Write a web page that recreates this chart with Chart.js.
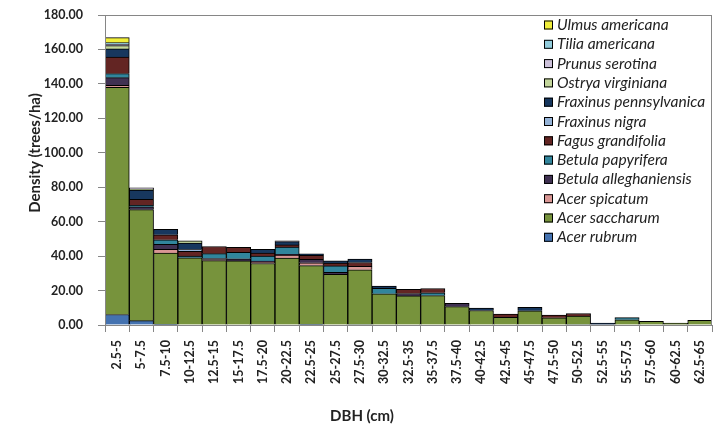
<!DOCTYPE html>
<html>
<head>
<meta charset="utf-8">
<script src="https://cdn.jsdelivr.net/npm/chart.js@4.4.1/dist/chart.umd.min.js"></script>
<style>
  html, body { margin: 0; padding: 0; background: #fff; }
  #wrap { width: 722px; height: 427px; position: relative; }
</style>
</head>
<body>
<div id="wrap"><canvas id="dbhChart"></canvas></div>
<script>
// DBH classes (cm)
const dbhClasses = ["2.5-5", "5-7.5", "7.5-10", "10-12.5", "12.5-15", "15-17.5", "17.5-20", "20-22.5",
  "22.5-25", "25-27.5", "27.5-30", "30-32.5", "32.5-35", "35-37.5", "37.5-40", "40-42.5",
  "42.5-45", "45-47.5", "47.5-50", "50-52.5", "52.5-55", "55-57.5", "57.5-60", "60-62.5", "62.5-65"];

// Density (trees/ha) per species, one value per DBH class
const acerRubrum      = [6.1, 2.5, 0.4, 0, 0, 0, 0, 0, 0.4, 0, 0.3, 0, 0, 0, 0, 0, 0, 0, 0, 0.3, 0, 0, 0, 0, 0];
const acerSaccharum   = [131.9, 64.5, 41.4, 39.0, 37.4, 37.2, 35.7, 38.8, 34.1, 29.4, 31.8, 18.1, 16.9, 17.1, 10.7, 8.4, 4.5, 8.3, 4.2, 4.9, 0, 3.0, 2.1, 1.1, 2.7];
const acerSpicatum    = [1.2, 0, 2.1, 0, 0.6, 0, 0.8, 1.8, 1.6, 0, 1.9, 0, 0, 0, 0, 0, 0, 0, 0, 0, 0, 0, 0, 0, 0];
const betulaAllegh    = [4.4, 1.6, 2.9, 0, 0.6, 1.2, 0.6, 0.4, 2.0, 1.2, 0, 0, 1.4, 0, 1.9, 0, 0, 0, 0, 0, 0, 0, 0, 0, 0];
const betulaPapyrifera= [2.4, 0.9, 2.7, 1.0, 2.8, 3.8, 2.9, 4.2, 0, 3.7, 0, 3.2, 0, 1.6, 0, 0, 0, 0, 0, 0, 0, 1.3, 0, 0, 0];
const fagusGrand      = [9.6, 3.5, 2.9, 2.8, 4.2, 2.9, 1.7, 1.3, 2.3, 1.7, 2.3, 0, 2.4, 2.5, 0, 0, 1.9, 0, 1.6, 1.5, 0, 0, 0, 0, 0];
const fraxinusNigra   = [0, 0, 0, 1.0, 0, 0, 0, 0, 0, 0, 0, 0, 0, 0, 0, 0, 0, 0, 0, 0, 0, 0, 0, 0, 0];
const fraxinusPenn    = [4.7, 5.3, 3.1, 3.7, 0, 0, 2.3, 1.9, 0.9, 1.3, 2.0, 1.3, 0, 0, 0, 1.45, 0, 2.0, 0, 0, 1.1, 0, 0, 0, 0];
const ostryaVirg      = [1.9, 0.7, 0, 1.4, 0, 0, 0, 0, 0, 0, 0, 0, 0, 0, 0, 0, 0, 0, 0, 0, 0, 0, 0, 0, 0];
const prunusSerotina  = [0.85, 0.6, 0, 0, 0, 0, 0, 0.5, 0, 0, 0, 0, 0, 0, 0, 0, 0, 0, 0, 0, 0, 0, 0, 0, 0];
const tiliaAmericana  = [0.9, 0, 0, 0, 0, 0, 0, 0, 0, 0, 0, 0, 0, 0, 0, 0, 0, 0, 0, 0, 0, 0, 0, 0, 0];
const ulmusAmericana  = [2.9, 0, 0, 0, 0, 0, 0, 0, 0, 0, 0, 0, 0, 0, 0, 0, 0, 0, 0, 0, 0, 0, 0, 0, 0];

const yTicks = [0, 20, 40, 60, 80, 100, 120, 140, 160, 180];

// stack order, bottom to top
const species = [
  ["Acer rubrum", acerRubrum, "#4472B0"],
  ["Acer saccharum", acerSaccharum, "#77933C"],
  ["Acer spicatum", acerSpicatum, "#D99694"],
  ["Betula alleghaniensis", betulaAllegh, "#403152"],
  ["Betula papyrifera", betulaPapyrifera, "#31859C"],
  ["Fagus grandifolia", fagusGrand, "#632523"],
  ["Fraxinus nigra", fraxinusNigra, "#95B3D7"],
  ["Fraxinus pennsylvanica", fraxinusPenn, "#17375E"],
  ["Ostrya virginiana", ostryaVirg, "#C3D69B"],
  ["Prunus serotina", prunusSerotina, "#CCC1DA"],
  ["Tilia americana", tiliaAmericana, "#93CDDD"],
  ["Ulmus americana", ulmusAmericana, "#F0EE3A"],
];

const axisGray = "#868686";
const textColor = "#222";

// box round the plot, legend inside it, axis titles
const framePlugin = {
  id: "frame",
  afterDraw(chart) {
    const { ctx, chartArea: a } = chart;
    ctx.save();
    ctx.strokeStyle = axisGray;
    ctx.lineWidth = 1;
    ctx.strokeRect(a.left + 0.5, a.top + 0.5, a.right - a.left - 1, a.bottom - a.top);

    // legend (reverse order, top item is last species)
    const sets = chart.data.datasets.slice().reverse();
    ctx.font = "italic 15.5px Lato";
    ctx.textBaseline = "middle";
    sets.forEach((ds, i) => {
      const y = a.top + 10 + i * 19.3;
      const x = a.right - 168;
      ctx.fillStyle = ds.backgroundColor;
      ctx.fillRect(x, y - 4.5, 9, 9);
      ctx.strokeStyle = "#000";
      ctx.strokeRect(x + 0.5, y - 4, 8, 8);
      ctx.fillStyle = textColor;
      ctx.fillText(ds.label, x + 13, y);
    });

    // axis titles
    ctx.font = "bold 15px Lato";
    ctx.textAlign = "center";
    ctx.fillText("DBH (cm)", 362, 416);
    ctx.translate(35, 153);
    ctx.rotate(-Math.PI / 2);
    ctx.fillText("Density (trees/ha)", 0, 0);
    ctx.restore();
  },
};

const ctx = document.getElementById("dbhChart").getContext("2d");
const dbhChart = new Chart(ctx, {
  type: "bar",
  data: {
    labels: dbhClasses,
    datasets: species.map(([name, values, color]) => ({
      label: name,
      data: values,
      backgroundColor: color,
      borderColor: "#000",
      borderWidth: 1,
      barPercentage: 1,
      categoryPercentage: 1,
    })),
  },
  options: {
    responsive: true,
    maintainAspectRatio: false,
    animation: false,
    layout: { padding: { top: 15, right: 10, left: 0, bottom: 0 } },
    plugins: {
      legend: { display: false },
      tooltip: { enabled: false },
    },
    scales: {
      x: {
        stacked: true,
        grid: { display: true, drawOnChartArea: false, drawTicks: true, tickLength: 7, color: axisGray, offset: true },
        border: { display: false },
        ticks: {
          autoSkip: false,
          minRotation: 90,
          maxRotation: 90,
          padding: 8,
          color: textColor,
          font: { family: "Lato", weight: "bold", size: 12.5 },
        },
        afterFit: (s) => { s.height = 102; s.paddingLeft = 0; s.paddingRight = 0; },
      },
      y: {
        stacked: true,
        min: 0,
        max: 180,
        afterBuildTicks: (s) => { s.ticks = yTicks.map((v) => ({ value: v })); },
        grid: { display: true, drawOnChartArea: false, drawTicks: true, tickLength: 7, color: axisGray },
        border: { display: false },
        ticks: {
          padding: 15,
          color: textColor,
          font: { family: "Lato", weight: "bold", size: 12.5 },
          callback: (v) => Number(v).toFixed(2),
        },
        afterFit: (s) => { s.width = 105; s.paddingTop = 0; s.paddingBottom = 0; },
      },
    },
  },
  plugins: [framePlugin],
});
</script>
</body>
</html>
